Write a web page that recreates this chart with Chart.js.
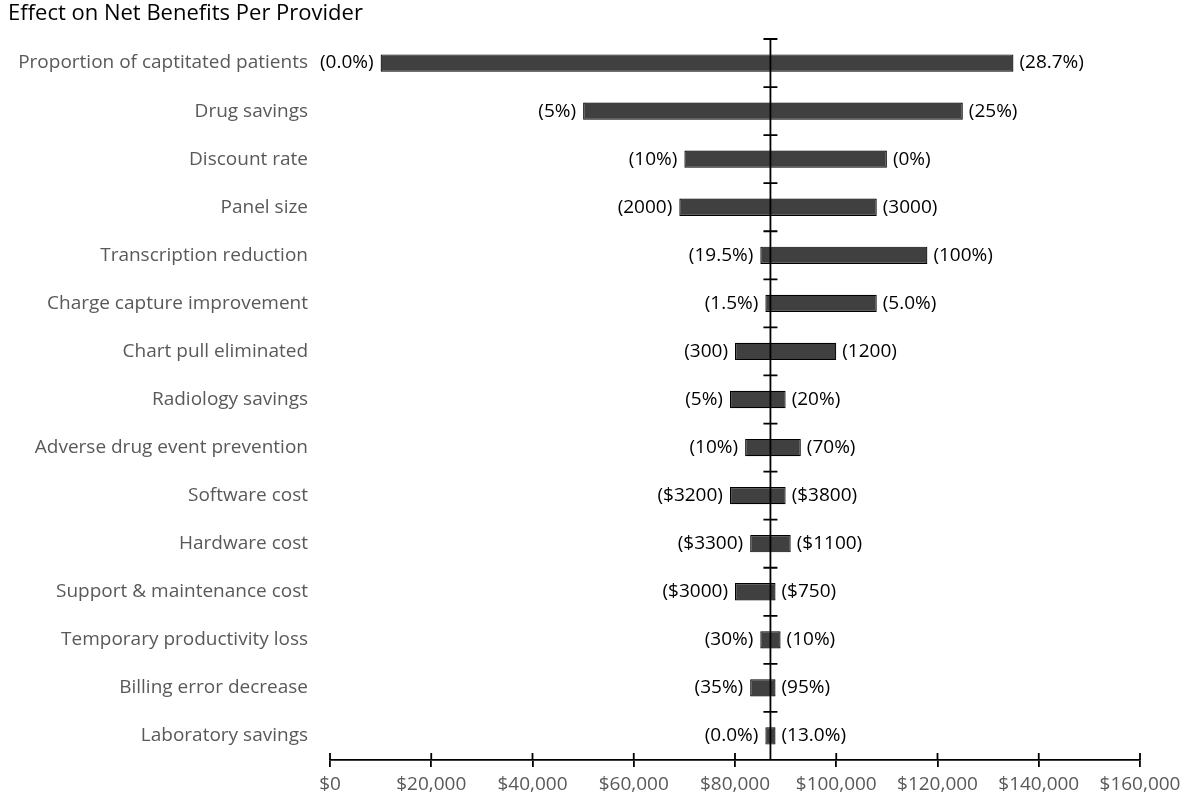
<!DOCTYPE html>
<html>
<head>
<meta charset="utf-8">
<script src="https://cdn.jsdelivr.net/npm/chart.js@4.4.0/dist/chart.umd.min.js"></script>
<style>
	html,body{margin:0;padding:0;background:#fff;}
	#contenedor{width:1189px;height:802px;}
</style>
</head>
<body>
<div id="contenedor"><canvas id="canva"></canvas></div>
<script>
// datos
const categorias = [
	"Proportion of captitated patients",
	"Drug savings",
	"Discount rate",
	"Panel size",
	"Transcription reduction",
	"Charge capture improvement",
	"Chart pull eliminated",
	"Radiology savings",
	"Adverse drug event prevention",
	"Software cost",
	"Hardware cost",
	"Support & maintenance cost",
	"Temporary productivity loss",
	"Billing error decrease",
	"Laboratory savings"
];
const valores_bajos = [10000, 50000, 70000, 69000, 85000, 86000, 80000, 79000, 82000, 79000, 83000, 80000, 85000, 83000, 86000];
const valores_altos = [135000, 125000, 110000, 108000, 118000, 108000, 100000, 90000, 93000, 90000, 91000, 88000, 89000, 88000, 88000];
const etiquetas_izq = ["(0.0%)", "(5%)", "(10%)", "(2000)", "(19.5%)", "(1.5%)", "(300)", "(5%)", "(10%)", "($3200)", "($3300)", "($3000)", "(30%)", "(35%)", "(0.0%)"];
const etiquetas_der = ["(28.7%)", "(25%)", "(0%)", "(3000)", "(100%)", "(5.0%)", "(1200)", "(20%)", "(70%)", "($3800)", "($1100)", "($750)", "(10%)", "(95%)", "(13.0%)"];
const linea_base = 87000;
const ticks_x = [0, 20000, 40000, 60000, 80000, 100000, 120000, 140000, 160000];

const fuente = '"Open Sans", "Liberation Sans", sans-serif';

// linea central, marcas y etiquetas de las barras
const plugin_lineas = {
	id: 'lineas',
	afterDatasetsDraw(chart){
		const {ctx, chartArea, scales:{x, y}} = chart;
		const cx = x.getPixelForValue(linea_base);
		const paso = y.getPixelForValue(1) - y.getPixelForValue(0);
		ctx.save();
		ctx.strokeStyle = '#000';
		ctx.lineWidth = 1.8;
		ctx.beginPath();
		ctx.moveTo(cx, chartArea.top);
		ctx.lineTo(cx, chartArea.bottom);
		for (let i = 0; i < categorias.length; i++) {
			const yy = y.getPixelForValue(i) - paso / 2;
			ctx.moveTo(cx - 7, yy);
			ctx.lineTo(cx + 7, yy);
		}
		// mitad superior de las marcas del eje x
		ticks_x.forEach(v => {
			const xx = x.getPixelForValue(v);
			ctx.moveTo(xx, chartArea.bottom - 7);
			ctx.lineTo(xx, chartArea.bottom);
		});
		ctx.stroke();

		ctx.fillStyle = '#000';
		ctx.font = '19px ' + fuente;
		ctx.textBaseline = 'middle';
		for (let i = 0; i < categorias.length; i++) {
			const yy = y.getPixelForValue(i);
			ctx.textAlign = 'right';
			ctx.fillText(etiquetas_izq[i], x.getPixelForValue(valores_bajos[i]) - 7, yy);
			ctx.textAlign = 'left';
			ctx.fillText(etiquetas_der[i], x.getPixelForValue(valores_altos[i]) + 6, yy);
		}
		ctx.restore();
	}
};

const ctx = document.getElementById('canva').getContext('2d');
const grafico = new Chart(ctx, {
	type: 'bar',
	data: {
		labels: categorias,
		datasets: [{
			data: valores_bajos.map((v, i) => [v, valores_altos[i]]),
			backgroundColor: '#404040',
			borderColor: '#000',
			borderWidth: 1.2,
			borderSkipped: false,
			barPercentage: 0.36,
			categoryPercentage: 1
		}]
	},
	options: {
		indexAxis: 'y',
		responsive: true,
		maintainAspectRatio: false,
		animation: false,
		layout: {padding: {left: 8, right: 49, top: 0, bottom: 0}},
		plugins: {
			legend: {display: false},
			tooltip: {enabled: false},
			title: {
				display: true,
				text: 'Effect on Net Benefits Per Provider',
				align: 'start',
				color: '#000',
				font: {family: fuente, size: 22, weight: 'normal'},
				padding: {top: 1, bottom: 11.6}
			}
		},
		scales: {
			x: {
				min: ticks_x[0],
				max: ticks_x[ticks_x.length - 1],
				afterBuildTicks: scale => { scale.ticks = ticks_x.map(v => ({value: v})); },
				afterFit: scale => { scale.height = 42; },
				border: {display: true, color: '#000', width: 1.8},
				grid: {drawOnChartArea: false, color: '#000', lineWidth: 1.8, tickLength: 7},
				ticks: {
					color: '#595959',
					padding: 6,
					maxRotation: 0,
					font: {family: fuente, size: 19},
					callback: v => '$' + Number(v).toLocaleString('en-US')
				}
			},
			y: {
				afterFit: scale => { scale.width = 322; },
				border: {display: false},
				grid: {display: false, drawTicks: false},
				ticks: {
					color: '#595959',
					padding: 22,
					font: {family: fuente, size: 19}
				}
			}
		}
	},
	plugins: [plugin_lineas]
});
</script>
</body>
</html>
